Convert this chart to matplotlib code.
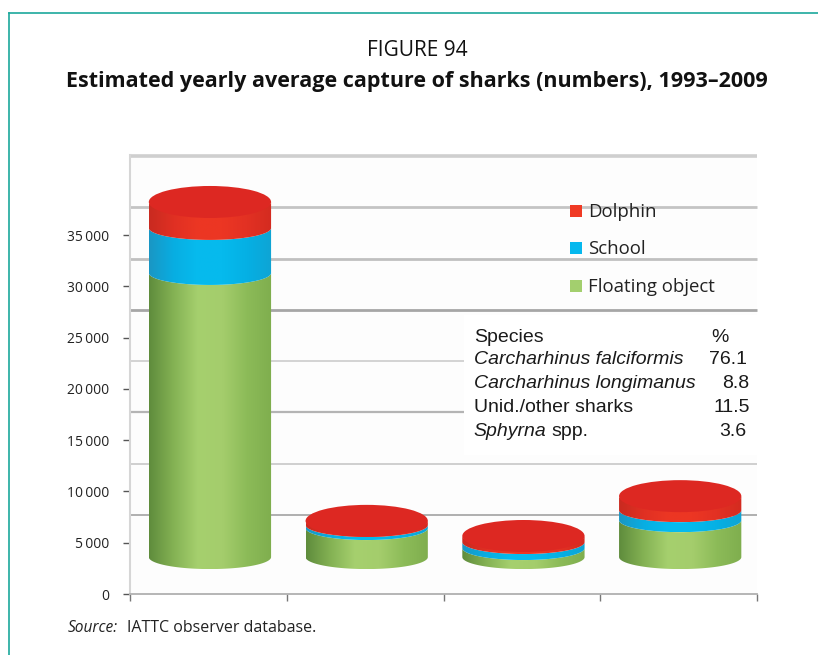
import numpy as np
import matplotlib
matplotlib.use("Agg")
import matplotlib.pyplot as plt
from matplotlib.colors import LinearSegmentedColormap
from matplotlib.patches import Polygon, Rectangle, Ellipse

W, H = 818, 655

# Set types stacked in each cylinder, bottom to top
floating_object = [27700, 2830, 880, 3600]
school = [4390, 300, 585, 975]
dolphin = [2530, 400, 590, 1365]

y_ticks = [0, 5000, 10000, 15000, 20000, 25000, 30000, 35000]
y_labels = ["0", "5\u2009000", "10\u2009000", "15\u2009000", "20\u2009000", "25\u2009000", "30\u2009000", "35\u2009000"]

species = ["Species", "Carcharhinus falciformis", "Carcharhinus longimanus", "Unid./other sharks"]
species_pct = ["%", "76.1", "8.8", "11.5", "3.6"]

# 3D look: the floor and back wall sit a little above the axis zero
FLOOR = 3600
WALL = 2700
HALF_W = 0.39
RY_SIDE = 1170
RY_TOP = 1560


def fx(x):
    return x / W


def fy(y):
    return 1 - y / H


def front_arc(cx, y, ry):
    t = np.linspace(np.pi, 2 * np.pi, 80)
    return cx + HALF_W * np.cos(t), y + ry * np.sin(t)


def draw_side(ax, cx, y0, y1, colors, z):
    # one cylinder segment, shaded left to right with a clipped gradient
    ax0, ay0 = front_arc(cx, y0, RY_SIDE)
    ax1, ay1 = front_arc(cx, y1, RY_SIDE)
    pts = np.column_stack([np.r_[ax0, ax1[::-1]], np.r_[ay0, ay1[::-1]]])
    patch = Polygon(pts, closed=True, fc="none", ec="none", zorder=z)
    ax.add_patch(patch)
    cmap = LinearSegmentedColormap.from_list("side", colors)
    grad = np.linspace(0, 1, 256).reshape(1, -1)
    im = ax.imshow(grad, cmap=cmap, aspect="auto", zorder=z, interpolation="bilinear",
                   extent=[cx - HALF_W, cx + HALF_W, y0 - RY_SIDE, y1 + RY_SIDE])
    im.set_clip_path(patch)


green_side = ["#5f8c3c", "#84b254", "#a6d06e", "#a4cd6c", "#8cbb58", "#7fae4e"]
blue_side = ["#1a96c4", "#08aee2", "#06bbee", "#06baed", "#05b0e4", "#0fa4d4"]
red_side = ["#c92a20", "#e03023", "#ec3723", "#ec3623", "#e23123", "#d42b20"]

fig = plt.figure(figsize=(W / 100, H / 100), dpi=100, facecolor="white")
ax = fig.add_axes([fx(130), fy(594), (757 - 130) / W, (594 - 155) / H])
ax.set_facecolor("#fdfdfd")
ax.set_xlim(0, 4)
ax.set_ylim(0, 42800)

# back wall grid, lower lines first
grid_lw = [1.3, 1.3, 1.6, 1.2, 2.0, 2.0, 2.0, 2.6]
grid_col = ["#a9a9a9", "#cccccc", "#b4b4b4", "#cccccc", "#a6a6a6", "#c0c0c0", "#c4c4c4", "#cfcfcf"]
for k in range(8):
    ax.axhline(WALL + 5000 * (k + 1), color=grid_col[k], lw=grid_lw[k], zorder=1,
               clip_on=False, solid_capstyle="butt")

# cylinders
for i in range(4):
    cx = i + 0.51
    b0 = FLOOR
    b1 = b0 + floating_object[i]
    b2 = b1 + school[i]
    b3 = b2 + dolphin[i]
    draw_side(ax, cx, b0, b1, green_side, 3)
    draw_side(ax, cx, b1, b2, blue_side, 4)
    draw_side(ax, cx, b2, b3, red_side, 5)
    ax.add_patch(Ellipse((cx, b3), 2 * HALF_W, 2 * RY_TOP, fc="#dd2822", ec="none", zorder=6))

for s in ["top", "right"]:
    ax.spines[s].set_visible(False)
ax.spines["left"].set_color("#d6d6d6")
ax.spines["left"].set_linewidth(1.5)
ax.spines["bottom"].set_color("#b0b0b0")
ax.spines["bottom"].set_linewidth(1.3)

ax.set_xticks([0, 1, 2, 3, 4])
ax.set_xticklabels([])
ax.set_yticks(y_ticks)
ax.set_yticklabels(y_labels, fontfamily="Open Sans", fontsize=10, color="#222222")
ax.tick_params(axis="x", length=5, width=1, color="#777777")
ax.tick_params(axis="y", length=5, width=1, color="#555555", pad=10)

# white block behind the species table
ax.add_patch(Rectangle((fx(464), fy(455)), (W - 464) / W, 140 / H, transform=fig.transFigure,
                       fc="white", ec="none", zorder=2, clip_on=False))

# legend
legend_names = ["Dolphin", "School", "Floating object"]
legend_cols = ["#f03a24", "#05b8ee", "#a3cf6e"]
legend_y = [211, 248, 286]
for name, col, y in zip(legend_names, legend_cols, legend_y):
    ax.add_patch(Rectangle((fx(570), fy(y + 6)), 12 / W, 12 / H, transform=fig.transFigure,
                           fc=col, ec="none", zorder=8, clip_on=False))
    fig.text(fx(588), fy(y + 1), name, fontfamily="Open Sans", fontsize=13.4, color="#222222",
             va="center", ha="left", zorder=9)

# species table
table_y = [337, 360, 384, 408]
for name, y, style in zip(species, table_y, ["normal", "italic", "italic", "normal"]):
    fig.text(fx(474), fy(y), name, fontfamily="Liberation Sans", fontsize=14, style=style,
             color="#1a1a1a", va="center", ha="left", zorder=9)
fig.text(fx(473), fy(431), "Sphyrna", fontfamily="Liberation Sans", fontsize=14, style="italic",
         color="#1a1a1a", va="center", ha="left", zorder=9)
fig.text(fx(551), fy(431), "spp.", fontfamily="Liberation Sans", fontsize=14,
         color="#1a1a1a", va="center", ha="left", zorder=9)
pct_x = [729, 747, 749, 750, 746]
pct_y = [337, 360, 384, 408, 431]
for txt, x, y in zip(species_pct, pct_x, pct_y):
    fig.text(fx(x), fy(y), txt, fontfamily="Liberation Sans", fontsize=14,
             color="#1a1a1a", va="center", ha="right", zorder=9)

# page frame
fig.add_artist(plt.Line2D([fx(8.5), fx(8.5)], [0, fy(12.5)], color="#1ba89c", lw=1.2))
fig.add_artist(plt.Line2D([fx(8.5), 1], [fy(12.5), fy(12.5)], color="#1ba89c", lw=1.2))

# titles and source
fig.text(fx(417), fy(50), "FIGURE 94", fontfamily="Open Sans", fontsize=15, color="#111111",
         ha="center", va="center")
fig.text(fx(417), fy(82), "Estimated yearly average capture of sharks (numbers), 1993\u20132009",
         fontfamily="Open Sans", fontsize=15.5, fontweight="bold", color="#111111",
         ha="center", va="center")
fig.text(fx(68), fy(628), "Source:", fontfamily="Open Sans", fontsize=11.2, style="italic",
         color="#222222", ha="left", va="center")
fig.text(fx(127), fy(628), "IATTC observer database.", fontfamily="Open Sans", fontsize=11.5,
         color="#222222", ha="left", va="center")

fig.savefig("out.png", dpi=100)
